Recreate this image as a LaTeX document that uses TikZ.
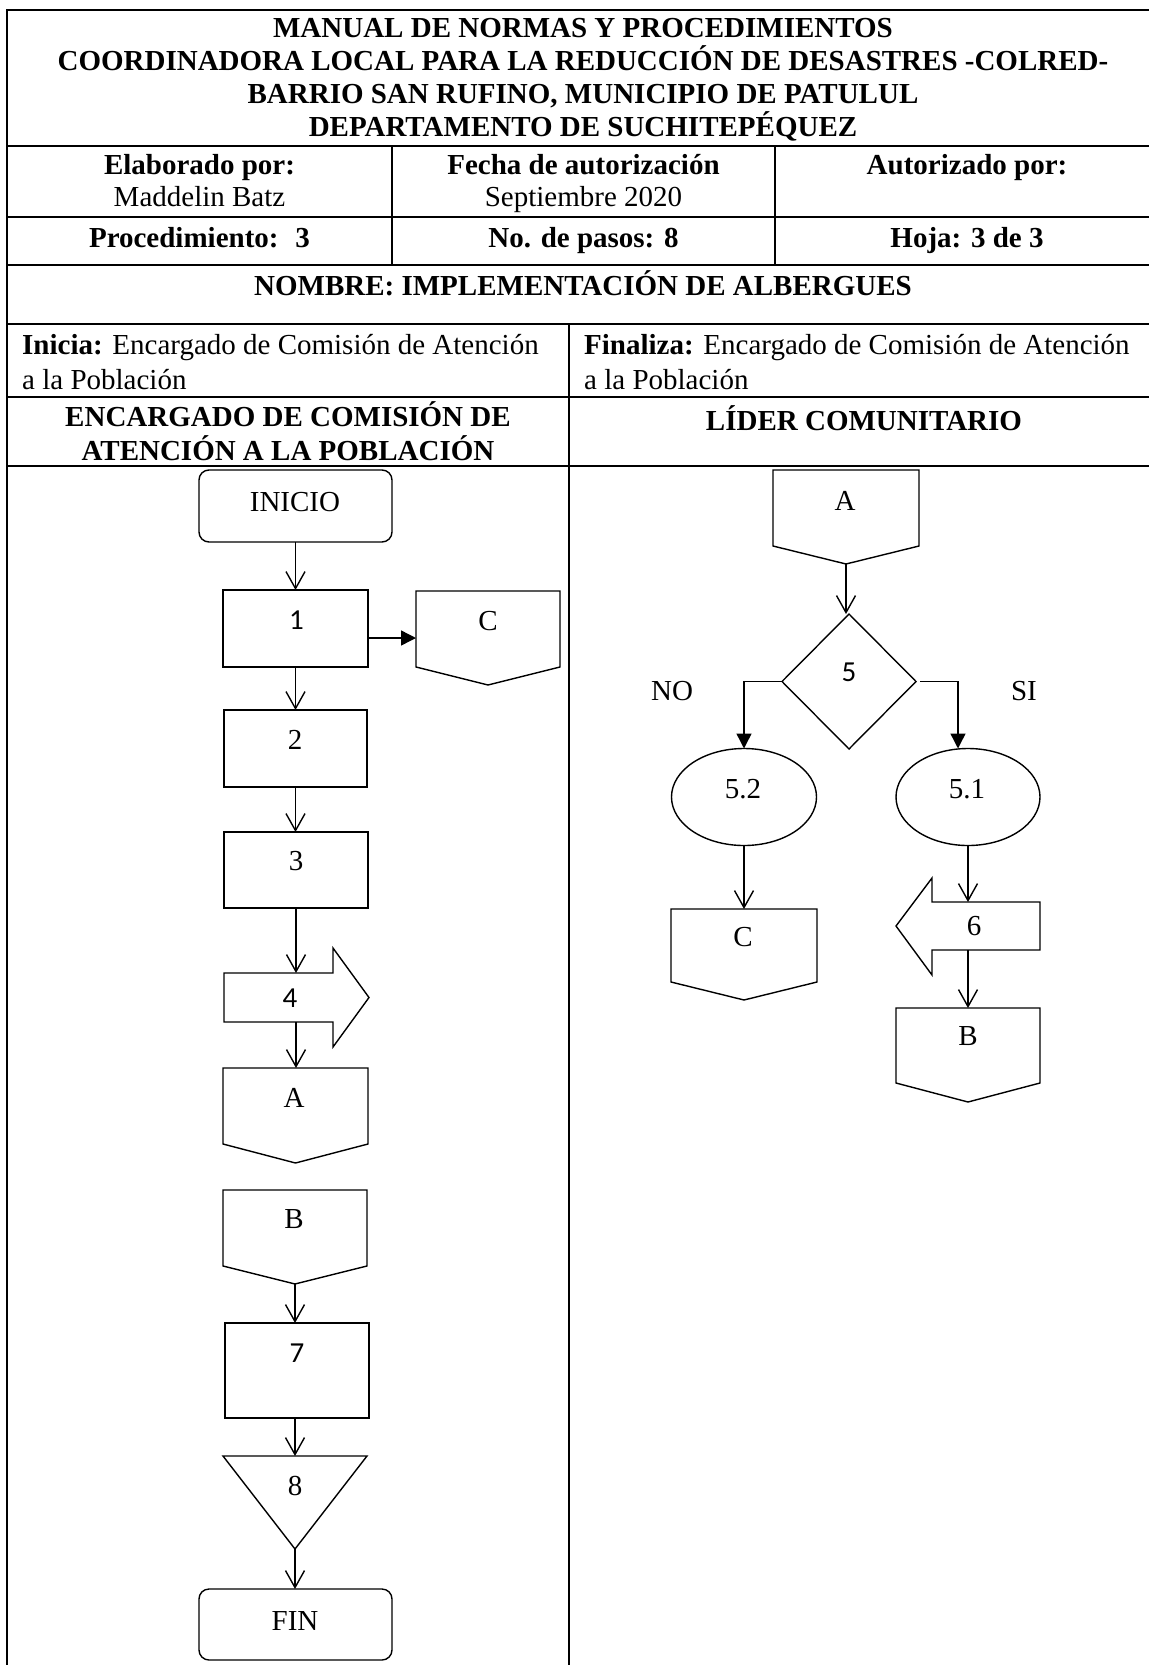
\documentclass[tikz,border=0pt]{standalone}
\usepackage{fontspec}
\setmainfont{Liberation Serif}
\newfontfamily\calfont{Carlito}
\usetikzlibrary{arrows.meta,shapes.geometric,calc}
\begin{document}
\begin{tikzpicture}[x=1pt,y=-1pt,
  font=\fontsize{29}{34}\selectfont,
  tl/.style={line width=2.2pt},
  sh/.style={draw,line width=1.4pt,inner sep=0pt,outer sep=0pt},
  inv/.style={inner sep=0pt,outer sep=0pt},
  outl/.style={line width=1.4pt,line join=miter},
  lbl/.style={anchor=base,inner sep=0pt},
  lblw/.style={anchor=base west,inner sep=0pt},
  hb/.style={anchor=base,inner sep=0pt,font=\fontsize{29}{34}\selectfont\bfseries},
  pbox/.style={sh,rectangle},
  term/.style={sh,rectangle,rounded corners=10pt},
  ell/.style={sh,ellipse},
  dia/.style={sh,diamond},
  openarr/.style={line width=1.4pt,-{Straight Barb[length=17pt,width=19pt]}},
  fillarr/.style={line width=1.4pt,-{Triangle[length=15pt,width=15pt]}}
]
\useasboundingbox (0,0) rectangle (1149,1665);

% ---------- table ----------
\draw[tl] (7,1665) -- (7,10) -- (1149,10);
\draw[tl] (7,146) -- (1149,146);
\draw[tl] (7,217) -- (1149,217);
\draw[tl] (7,265) -- (1149,265);
\draw[tl] (7,324) -- (1149,324);
\draw[tl] (7,397) -- (1149,397);
\draw[tl] (7,466) -- (1149,466);
\draw[tl] (392,146) -- (392,265);
\draw[tl] (775,146) -- (775,265);
\draw[tl] (569,324) -- (569,1665);

\node[hb] (h1) at (583,37) {MANUAL DE NORMAS Y PROCEDIMIENTOS};
\node[hb] (h2) at (583,70.5) {COORDINADORA LOCAL PARA LA REDUCCIÓN DE DESASTRES -COLRED-};
\node[hb] (h3) at (583,103.5) {BARRIO SAN RUFINO, MUNICIPIO DE PATULUL};
\node[hb] (h4) at (583,136.5) {DEPARTAMENTO DE SUCHITEPÉQUEZ};

\node[hb] (e1) at (199.5,174) {Elaborado por:};
\node[lbl] (e2) at (199.5,206) {Maddelin Batz};
\node[hb] (f1) at (583.5,174) {Fecha de autorización};
\node[lbl] (f2) at (583.5,206) {Septiembre 2020};
\node[hb] (a1) at (967,174) {Autorizado por:};

\node[hb] (p1) at (199.5,247) {Procedimiento:~ 3};
\node[hb] (p2) at (583.5,247) {No. de pasos: 8};
\node[hb] (p3) at (967,247) {Hoja: 3 de 3};

\node[hb] (nm) at (583,295) {NOMBRE: IMPLEMENTACIÓN DE ALBERGUES};

\node[lblw] (i1) at (22,354.5) {\textbf{Inicia:} Encargado de Comisión de Atención};
\node[lblw] (i2) at (22,389) {a la Población};
\node[lblw] (fz1) at (584,354.5) {\textbf{Finaliza:} Encargado de Comisión de Atención};
\node[lblw] (fz2) at (584,389) {a la Población};

\node[hb] (l1) at (288,426) {ENCARGADO DE COMISIÓN DE};
\node[hb] (l2) at (288,460) {ATENCIÓN A LA POBLACIÓN};
\node[hb] (l3) at (864,430) {LÍDER COMUNITARIO};

% ---------- left lane ----------
\node[term,minimum width=193pt,minimum height=72pt] (ini) at (295.5,506) {};
\node[lbl] (tini) at (295,511.5) {INICIO};

\node[pbox,minimum width=145pt,minimum height=77pt] (b1) at (295.5,628.5) {};
\node[lbl] (tb1) at (296.5,629) {\calfont 1};

\node[inv,minimum width=144pt,minimum height=94pt] (cC1) at (488,638) {};
\draw[outl] (416,591) -- (560,591) -- (560,667) -- (488,685) -- (416,667) -- cycle;
\node[lbl] (tcC1) at (488,630) {C};

\node[pbox,minimum width=143pt,minimum height=77pt] (b2) at (295.5,748.5) {};
\node[lbl] (tb2) at (295,749) {2};

\node[pbox,minimum width=144pt,minimum height=76pt] (b3) at (296,870) {};
\node[lbl] (tb3) at (296,870.7) {3};

\node[inv,minimum width=145pt,minimum height=99pt] (s4) at (296.5,997.5) {};
\draw[outl] (224,973) -- (333,973) -- (333,948) -- (369,997.5) -- (333,1047) -- (333,1022) -- (224,1022) -- cycle;
\coordinate (s4t) at (296,973);
\coordinate (s4b) at (296,1022);
\node[lbl] (ts4) at (290,1007) {\calfont 4};

\node[inv,minimum width=145pt,minimum height=95pt] (cA1) at (295.5,1115.5) {};
\draw[outl] (223,1068) -- (368,1068) -- (368,1144) -- (295.5,1163) -- (223,1144) -- cycle;
\node[lbl] (tcA1) at (294,1107) {A};

\node[inv,minimum width=144pt,minimum height=94pt] (cB1) at (295,1237) {};
\draw[outl] (223,1190) -- (367,1190) -- (367,1266) -- (295,1284) -- (223,1266) -- cycle;
\node[lbl] (tcB1) at (294,1228) {B};

\node[pbox,minimum width=144pt,minimum height=95pt] (b7) at (297,1370.5) {};
\node[lbl] (tb7) at (297,1362) {\calfont 7};

\node[inv,minimum width=144pt,minimum height=93pt] (t8) at (295,1502.5) {};
\draw[outl] (223,1456) -- (367,1456) -- (295,1549) -- cycle;
\node[lbl] (tt8) at (295,1495) {8};

\node[term,minimum width=193pt,minimum height=71pt] (fin) at (295.5,1624.5) {};
\node[lbl] (tfin) at (295,1630) {FIN};

\draw[openarr] (ini.south) -- (ini.south |- b1.north);
\draw[fillarr] (b1.east |- cC1.west) -- (cC1.west);
\draw[openarr] (b1.south) -- (b1.south |- b2.north);
\draw[openarr] (b2.south) -- (b2.south |- b3.north);
\draw[openarr] (b3.south) -- (s4t);
\draw[openarr] (s4b) -- (s4b |- cA1.north);
\draw[openarr] (cB1.south) -- (cB1.south |- b7.north);
\draw[openarr] (b7.south -| t8.south) -- (t8.north);
\draw[openarr] (t8.south) -- (t8.south |- fin.north);

% ---------- right lane ----------
\node[inv,minimum width=146pt,minimum height=94pt] (cA2) at (846,517) {};
\draw[outl] (773,470) -- (919,470) -- (919,546) -- (846,564) -- (773,546) -- cycle;
\node[lbl] (tcA2) at (845,510) {A};

\node[dia,minimum width=134pt,minimum height=135pt] (d5) at (849,681.5) {};
\node[lbl] (td5) at (849,681.7) {\calfont 5};

\node[lbl] (no) at (672,700.7) {NO};
\node[lbl] (si) at (1024,700.7) {SI};

\node[ell,minimum width=145pt,minimum height=97pt] (e52) at (744,797) {};
\node[lbl] (te52) at (743,798) {5.2};
\node[ell,minimum width=144pt,minimum height=97pt] (e51) at (968,797) {};
\node[lbl] (te51) at (967,798) {5.1};

\node[inv,minimum width=146pt,minimum height=91pt] (cC2) at (744,954.5) {};
\draw[outl] (671,909) -- (817,909) -- (817,982) -- (744,1000) -- (671,982) -- cycle;
\node[lbl] (tcC2) at (743,946) {C};

\node[inv,minimum width=144pt,minimum height=97pt] (s6) at (968,926.5) {};
\draw[outl] (1040,902) -- (932,902) -- (932,878) -- (896,926) -- (932,975) -- (932,950) -- (1040,950) -- cycle;
\coordinate (s6t) at (968,902);
\coordinate (s6b) at (968,950);
\node[lbl] (ts6) at (974,935) {6};

\node[inv,minimum width=144pt,minimum height=94pt] (cB2) at (968,1055) {};
\draw[outl] (896,1008) -- (1040,1008) -- (1040,1083) -- (968,1102) -- (896,1083) -- cycle;
\node[lbl] (tcB2) at (968,1045.7) {B};

\draw[openarr] (cA2.south) -- (cA2.south |- d5.north);
\draw[fillarr] (d5.west) -| (e52.north);
\draw[fillarr] ($(d5.east)+(4,0)$) -| ($(e51.north)+(-10,0)$);
\draw[openarr] (e52.south) -- (e52.south |- cC2.north);
\draw[openarr] (e51.south) -- (s6t);
\draw[openarr] (s6b) -- (s6b |- cB2.north);
\end{tikzpicture}
\end{document}
